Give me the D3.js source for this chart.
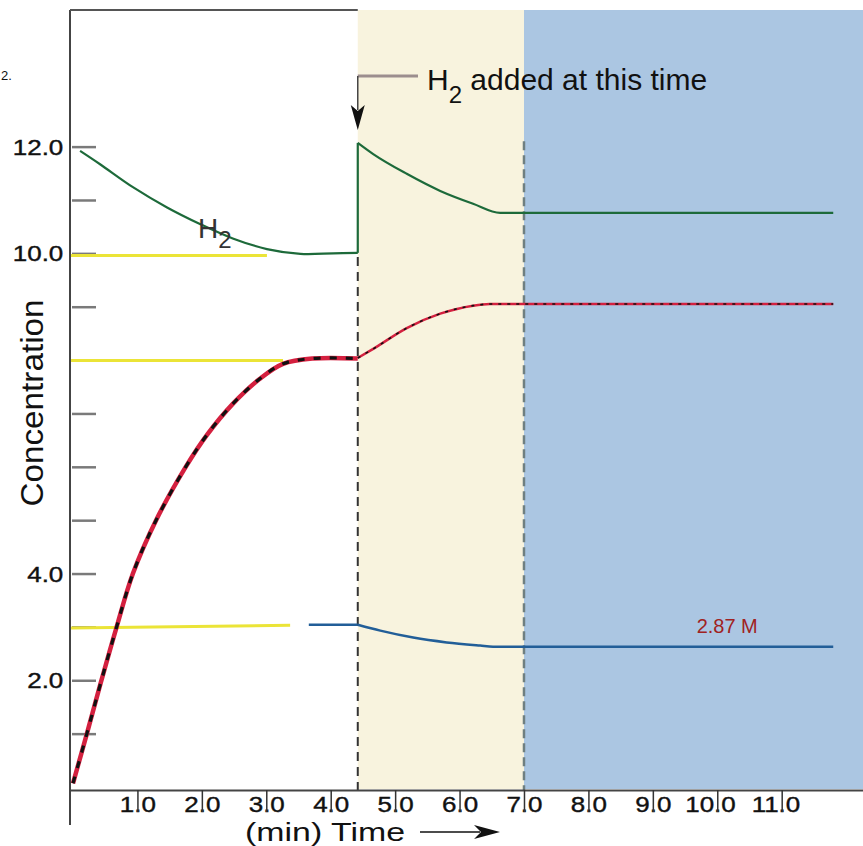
<!DOCTYPE html>
<html>
<head>
<meta charset="utf-8">
<script src="https://cdn.jsdelivr.net/npm/d3@7"></script>
<style>
  body { margin: 0; background: #fff; }
  svg { display: block; font-family: "Liberation Sans", Arial, Helvetica, sans-serif; }
</style>
</head>
<body>
<script>
// time (min), concentration (M)
const xTicks = [1, 2, 3, 4, 5, 6, 7, 8, 9, 10, 11];
const yTicks = [1, 2, 3, 4, 5, 6, 7, 8, 9, 10, 11, 12];
const yLabels = [2, 4, 10, 12];

const addTime = 4.42;     // H2 added
const settleTime = 7.0;   // new equilibrium

const h2Before = [[0.11, 11.92], [0.42, 11.67], [0.93, 11.24], [1.46, 10.86], [1.97, 10.55],
    [2.48, 10.28], [3.01, 10.08], [3.53, 9.99], [4.04, 10.0], [4.42, 10.01]];
const h2After = [[4.42, 12.07], [4.66, 11.86], [5.18, 11.49], [5.70, 11.17], [6.21, 10.93],
    [6.63, 10.76], [11.8, 10.76]];

const productBefore = [[0, 0.07], [0.22, 1.02], [0.43, 1.95], [0.67, 2.97], [0.93, 4.0],
    [1.29, 5.0], [1.75, 6.0], [2.08, 6.6], [2.48, 7.18], [2.90, 7.65], [3.26, 7.93],
    [3.72, 8.03], [4.42, 8.03]];
const productAfter = [[4.42, 8.04], [4.66, 8.21], [5.18, 8.60], [5.70, 8.87], [6.21, 9.02],
    [6.47, 9.05], [11.8, 9.05]];

const otherBefore = [[3.66, 3.04], [4.42, 3.04]];
const otherAfter = [[4.42, 3.04], [4.77, 2.93], [5.28, 2.80], [5.80, 2.71], [6.32, 2.65],
    [6.52, 2.63], [11.8, 2.63]];

const eqLines = [
    [[-0.03, 9.96], [3.01, 9.96]],
    [[-0.03, 7.99], [3.26, 7.99]],
    [[-0.03, 2.98], [3.37, 3.03]]
];

const width = 863, height = 846;

const x = d3.scaleLinear().domain([-0.0466, 12.262]).range([70, 863]);
const y = d3.scaleLinear().domain([-0.056, 14.56]).range([790, 10]);

const svg = d3.select("body").append("svg")
    .attr("width", width)
    .attr("height", height);

// shaded periods
svg.append("rect")
    .attr("x", x(addTime)).attr("y", 10)
    .attr("width", x(settleTime) - x(addTime)).attr("height", 779)
    .attr("fill", "#f8f3de");
svg.append("rect")
    .attr("x", x(settleTime)).attr("y", 10)
    .attr("width", width - x(settleTime)).attr("height", 779)
    .attr("fill", "#abc6e2");

// frame
svg.append("line").attr("x1", 70).attr("x2", 70).attr("y1", 10).attr("y2", 825)
    .attr("stroke", "#444").attr("stroke-width", 2);
svg.append("line").attr("x1", 70).attr("x2", x(addTime)).attr("y1", 10).attr("y2", 10)
    .attr("stroke", "#555").attr("stroke-width", 2);

// y axis ticks
const yAxis = svg.append("g")
    .attr("transform", "translate(72,0)")
    .call(d3.axisLeft(y)
        .tickValues(yTicks)
        .tickSizeInner(-24)
        .tickSizeOuter(0)
        .tickPadding(7.4)
        .tickFormat(d => yLabels.includes(d) ? d.toFixed(1) : ""));
yAxis.select(".domain").remove();
yAxis.selectAll(".tick line").attr("stroke", "#7a7a7a").attr("stroke-width", 2.5);
yAxis.selectAll(".tick text")
    .attr("font-size", 22)
    .attr("fill", "#111")
    .attr("stroke", "#111")
    .attr("stroke-width", 0.4)
    .attr("dy", "0.34em")
    .attr("transform", "scale(1.18,1)");

// dashed markers
svg.append("line")
    .attr("x1", x(addTime)).attr("x2", x(addTime))
    .attr("y1", y(9.93)).attr("y2", 790)
    .attr("stroke", "#333").attr("stroke-width", 2).attr("stroke-dasharray", "9 6");
svg.append("line")
    .attr("x1", x(settleTime)).attr("x2", x(settleTime))
    .attr("y1", y(12.1)).attr("y2", 790)
    .attr("stroke", "#6f7f80").attr("stroke-width", 2.5).attr("stroke-dasharray", "9 5");

const smooth = d3.line()
    .x(d => x(d[0]))
    .y(d => y(d[1]))
    .curve(d3.curveCatmullRom.alpha(0.5));
const line = d3.line()
    .x(d => x(d[0]))
    .y(d => y(d[1]))
    .curve(d3.curveMonotoneX);
const straight = d3.line()
    .x(d => x(d[0]))
    .y(d => y(d[1]));

// yellow starting / equilibrium levels
svg.append("g")
    .selectAll("path")
    .data(eqLines)
    .join("path")
    .attr("d", straight)
    .attr("fill", "none")
    .attr("stroke", "#ebe437")
    .attr("stroke-width", 3);

// H2
const h2 = svg.append("g").attr("fill", "none").attr("stroke", "#1d6a3a").attr("stroke-width", 2.2);
h2.append("path").attr("d", smooth(h2Before));
h2.append("path").attr("d", straight([h2Before[h2Before.length - 1], h2After[0]]));
h2.append("path").attr("d", line(h2After));

// product (red with black dashes)
svg.append("path").attr("d", smooth(productBefore))
    .attr("fill", "none").attr("stroke", "#d4203f").attr("stroke-width", 4.5);
svg.append("path").attr("d", smooth(productBefore))
    .attr("fill", "none").attr("stroke", "#111").attr("stroke-width", 3.2)
    .attr("stroke-dasharray", "7 9");
svg.append("path").attr("d", line(productAfter))
    .attr("fill", "none").attr("stroke", "#d4203f").attr("stroke-width", 2.5);
svg.append("path").attr("d", line(productAfter))
    .attr("fill", "none").attr("stroke", "#111").attr("stroke-width", 1.6)
    .attr("stroke-dasharray", "3 6");

// third species (blue)
const blue = svg.append("g").attr("fill", "none").attr("stroke", "#225e98").attr("stroke-width", 2.5);
blue.append("path").attr("d", straight(otherBefore));
blue.append("path").attr("d", line(otherAfter));

// x axis
const xAxis = svg.append("g")
    .attr("transform", "translate(0,790)")
    .call(d3.axisBottom(x)
        .tickValues(xTicks)
        .tickSizeInner(22)
        .tickSizeOuter(0)
        .tickFormat(d => d.toFixed(1)));
xAxis.select(".domain").attr("stroke", "#444").attr("stroke-width", 2);
xAxis.selectAll(".tick line").attr("stroke", "#333").attr("stroke-width", 1.5);
xAxis.selectAll(".tick text")
    .attr("font-size", 22)
    .attr("fill", "#111")
    .attr("stroke", "#111")
    .attr("stroke-width", 0.4)
    .attr("y", 22)
    .attr("dy", 0)
    .attr("text-anchor", "start")
    .each(function(d) {
        // put the decimal point on the tick
        const s = d.toFixed(1);
        const n = s.indexOf(".");
        let wInt = 12.2 * n, wDot = 6.1;
        try {
            wInt = this.getSubStringLength(0, n);
            wDot = this.getSubStringLength(n, 1);
        } catch (e) {}
        d3.select(this)
            .attr("x", -(wInt + wDot / 2))
            .attr("transform", "scale(1.18,1)");
    });
xAxis.selectAll(".tick line").raise();

// axis titles
svg.append("text")
    .attr("transform", "translate(43,403) rotate(-90)")
    .attr("text-anchor", "middle")
    .attr("font-size", 32)
    .attr("fill", "#111")
    .attr("textLength", 207)
    .attr("lengthAdjust", "spacingAndGlyphs")
    .text("Concentration");

svg.append("text")
    .attr("x", 245).attr("y", 841)
    .attr("font-size", 26)
    .attr("fill", "#111")
    .attr("textLength", 160)
    .attr("lengthAdjust", "spacingAndGlyphs")
    .text("(min) Time");

svg.append("line").attr("x1", 420).attr("x2", 480).attr("y1", 832).attr("y2", 832)
    .attr("stroke", "#111").attr("stroke-width", 1.5);
svg.append("path").attr("d", "M500,832L474,825L481,832L474,839Z").attr("fill", "#111");

// fragment of a label at the left edge
svg.append("text")
    .attr("x", 1).attr("y", 80)
    .attr("font-size", 13)
    .attr("fill", "#111")
    .text("2.");

// H2 label on curve
const h2Label = svg.append("text")
    .attr("x", x(1.94)).attr("y", y(10.29))
    .attr("font-size", 28)
    .attr("fill", "#333");
h2Label.append("tspan").text("H");
h2Label.append("tspan").attr("dy", 10).attr("font-size", 24).text("2");

// "H2 added at this time" annotation
svg.append("path")
    .attr("d", `M418,76H${x(addTime)}`)
    .attr("fill", "none").attr("stroke", "#9c8e8e").attr("stroke-width", 3);
svg.append("path")
    .attr("d", `M${x(addTime)},76V110`)
    .attr("fill", "none").attr("stroke", "#444").attr("stroke-width", 1.5);
svg.append("path")
    .attr("d", `M${x(addTime)},130L${x(addTime) - 7},105L${x(addTime)},111L${x(addTime) + 7},105Z`)
    .attr("fill", "#111");

const note = svg.append("text")
    .attr("x", 427).attr("y", 90)
    .attr("font-size", 30)
    .attr("fill", "#111")
    .style("white-space", "pre");
note.append("tspan").text("H");
note.append("tspan").attr("dy", 13).attr("font-size", 24).text("2");
note.append("tspan").attr("dy", -13).text(" added at this time");

// equilibrium value
svg.append("text")
    .attr("x", x(9.68)).attr("y", y(2.89))
    .attr("font-size", 20)
    .attr("fill", "#a02222")
    .text("2.87 M");
</script>
</body>
</html>
